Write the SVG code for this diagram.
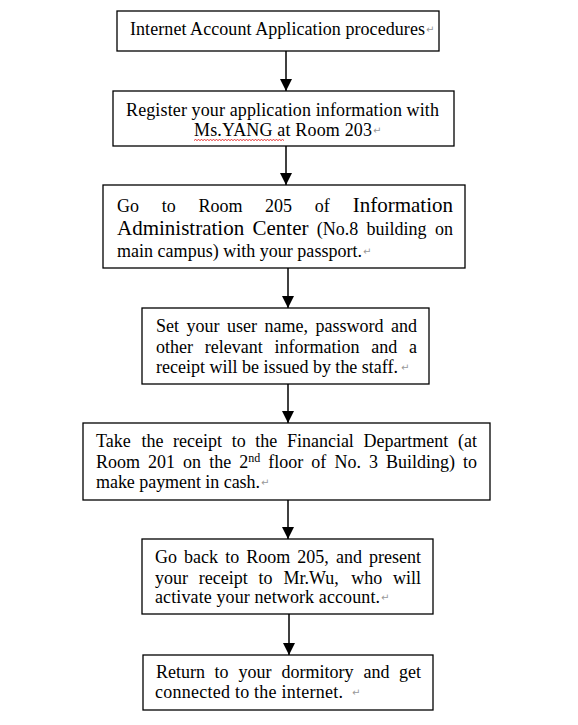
<svg xmlns="http://www.w3.org/2000/svg" width="578" height="725" viewBox="0 0 578 725">
<defs>
<style>
.box{fill:#fff;stroke:#000;stroke-width:1.3}
.t{font-family:"Liberation Serif","Times New Roman",serif;font-size:18px;fill:#000}
.big{font-size:21px}
.e{text-anchor:end}
.pm{font-family:"DejaVu Sans",sans-serif;font-size:10px;fill:#999}
.ln{stroke:#000;stroke-width:1.5;fill:none}
</style>
<marker id="ah" viewBox="0 0 12 12" refX="12" refY="6" markerWidth="12" markerHeight="12" markerUnits="userSpaceOnUse" orient="auto">
<path d="M0,0 L12,6 L0,12 Z" fill="#000"/>
</marker>
</defs>
<rect width="578" height="725" fill="#fff"/>
<g id="connectors">
<line class="ln" x1="286" y1="51" x2="286" y2="91" marker-end="url(#ah)"/>
<line class="ln" x1="286" y1="146" x2="286" y2="185" marker-end="url(#ah)"/>
<line class="ln" x1="288" y1="268" x2="288" y2="308" marker-end="url(#ah)"/>
<line class="ln" x1="288" y1="384" x2="288" y2="423" marker-end="url(#ah)"/>
<line class="ln" x1="288" y1="500" x2="288" y2="539" marker-end="url(#ah)"/>
<line class="ln" x1="289" y1="614" x2="289" y2="655" marker-end="url(#ah)"/>
</g>
<g id="n1">
<rect class="box" x="117" y="11" width="322" height="40"/>
<text class="t" x="130" y="35" textLength="295" lengthAdjust="spacing">Internet Account Application procedures</text>
<text class="pm" x="426" y="33">↵</text>
</g>
<g id="n2">
<rect class="box" x="113" y="91" width="341" height="55"/>
<text class="t" x="126" y="116" textLength="313" lengthAdjust="spacing">Register your application information with</text>
<text class="t" x="194" y="136" textLength="178" lengthAdjust="spacing">Ms.YANG at Room 203</text>
<text class="pm" x="373" y="134">↵</text>
<path d="M194 140.5 l1.5 -1 1.5 1 1.5 -1 1.5 1 1.5 -1 1.5 1 1.5 -1 1.5 1 1.5 -1 1.5 1 1.5 -1 1.5 1 1.5 -1 1.5 1 1.5 -1 1.5 1 1.5 -1 1.5 1 1.5 -1 1.5 1 1.5 -1 1.5 1 1.5 -1 1.5 1 1.5 -1 1.5 1 1.5 -1 1.5 1 1.5 -1 1.5 1 1.5 -1 1.5 1 1.5 -1 1.5 1 1.5 -1 1.5 1 1.5 -1 1.5 1 1.5 -1 1.5 1 1.5 -1 1.5 1 1.5 -1 1.5 1 1.5 -1 1.5 1 1.5 -1 1.5 1 1.5 -1 1.5 1 1.5 -1 1.5 1 1.5 -1 1.5 1 1.5 -1 1.5 1 1.5 -1 1.5 1 1.5 -1 1.5 1" fill="none" stroke="#e00000" stroke-width="0.8"/>
</g>
<g id="n3">
<rect class="box" x="103" y="185" width="362" height="83"/>
<text class="t" y="212"><tspan x="117">Go</tspan><tspan x="161.7">to</tspan><tspan x="198.4">Room</tspan><tspan x="265.1">205</tspan><tspan x="314.8">of</tspan></text>
<text class="t big e" x="453" y="212">Information</text>
<text class="t" y="235"><tspan x="117" class="big">Administration</tspan><tspan x="252.5" class="big">Center</tspan><tspan x="316.8">(No.8</tspan><tspan x="366.6">building</tspan></text>
<text class="t e" x="453" y="235">on</text>
<text class="t" x="117" y="257" textLength="245" lengthAdjust="spacing">main campus) with your passport.</text>
<text class="pm" x="363" y="255">↵</text>
</g>
<g id="n4">
<rect class="box" x="142" y="308" width="287" height="76"/>
<text class="t" y="332"><tspan x="156">Set</tspan><tspan x="186.5">your</tspan><tspan x="227">user</tspan><tspan x="264.5">name,</tspan><tspan x="315.5">password</tspan></text>
<text class="t e" x="417" y="332">and</text>
<text class="t" y="353"><tspan x="156">other</tspan><tspan x="204.8">relevant</tspan><tspan x="274.5">information</tspan><tspan x="371.3">and</tspan></text>
<text class="t e" x="417" y="353">a</text>
<text class="t" x="156" y="373" textLength="242" lengthAdjust="spacing">receipt will be issued by the staff.</text>
<text class="pm" x="401" y="371">↵</text>
</g>
<g id="n5">
<rect class="box" x="83" y="423" width="407" height="77"/>
<text class="t" y="447"><tspan x="96">Take</tspan><tspan x="141.6">the</tspan><tspan x="173.1">receipt</tspan><tspan x="231.7">to</tspan><tspan x="255.3">the</tspan><tspan x="286.9">Financial</tspan><tspan x="363.4">Department</tspan></text>
<text class="t e" x="477" y="447">(at</text>
<text class="t" y="468"><tspan x="96">Room</tspan><tspan x="148">201</tspan><tspan x="183.1">on</tspan><tspan x="209.2">the</tspan><tspan x="239.2">2</tspan><tspan font-size="12" dy="-6">nd</tspan><tspan x="268.3" dy="6">floor</tspan><tspan x="311.3">of</tspan><tspan x="334.4">No.</tspan><tspan x="368.9">3</tspan><tspan x="386">Building)</tspan></text>
<text class="t e" x="477" y="468">to</text>
<text class="t" x="96" y="488" textLength="164" lengthAdjust="spacing">make payment in cash.</text>
<text class="pm" x="261" y="486">↵</text>
</g>
<g id="n6">
<rect class="box" x="142" y="539" width="291" height="75"/>
<text class="t" y="563"><tspan x="155">Go</tspan><tspan x="184.1">back</tspan><tspan x="225.2">to</tspan><tspan x="246.2">Room</tspan><tspan x="297.3">205,</tspan><tspan x="335.9">and</tspan></text>
<text class="t e" x="421" y="563">present</text>
<text class="t" y="584"><tspan x="155">your</tspan><tspan x="198.8">receipt</tspan><tspan x="258.6">to</tspan><tspan x="283.4">Mr.Wu,</tspan><tspan x="351.2">who</tspan></text>
<text class="t e" x="421" y="584">will</text>
<text class="t" x="155" y="603" textLength="225" lengthAdjust="spacing">activate your network account.</text>
<text class="pm" x="381" y="601">↵</text>
</g>
<g id="n7">
<rect class="box" x="143" y="655" width="290" height="55"/>
<text class="t" y="678"><tspan x="156">Return</tspan><tspan x="214.5">to</tspan><tspan x="238.5">your</tspan><tspan x="281.5">dormitory</tspan><tspan x="363.5">and</tspan></text>
<text class="t e" x="421" y="678">get</text>
<text class="t" x="155" y="698" textLength="188" lengthAdjust="spacing">connected to the internet.</text>
<text class="pm" x="352" y="696">↵</text>
</g>
</svg>
